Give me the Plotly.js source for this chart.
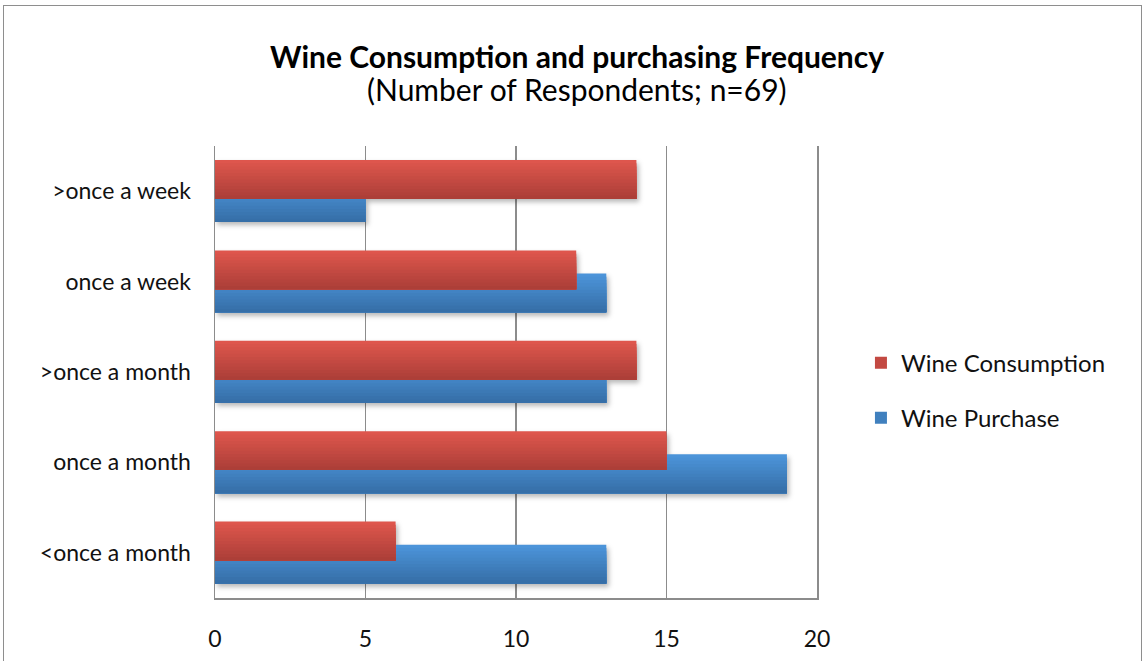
<!DOCTYPE html>
<html>
<head>
<meta charset="utf-8">
<script src="https://cdn.plot.ly/plotly-3.0.1.min.js"></script>
<style>
  html, body { margin: 0; padding: 0; background: #fff; }
  #wrap { position: relative; width: 1142px; height: 661px; overflow: hidden; }
  #chart { position: absolute; left: 0; top: 0; width: 1142px; height: 661px; }
  #frame { position: absolute; left: 3px; top: 5px; width: 1137px; height: 700px;
           border: 1px solid #8e8e8e; pointer-events: none; }
  /* soft drop shadow under the bars */
  #chart g.barlayer { filter: drop-shadow(2px 3px 2.5px rgba(0,0,0,0.28)); }
</style>
</head>
<body>
<div id="wrap">
  <div id="chart"></div>
  <div id="frame"></div>
</div>
<script>
// Frequency categories, top to bottom
const categories = ['>once a week', 'once a week', '>once a month', 'once a month', '<once a month'];
// Number of respondents per frequency
const consumption = [14, 12, 14, 15, 6];
const purchase = [5, 13, 13, 19, 13];
const xTicks = [0, 5, 10, 15, 20];

const FONT = 'Lato, Open Sans, sans-serif';

// Each bar is layered from a stack of strips, each reaching to the bar's
// lower edge, so the bar gets a light-to-dark vertical shading without seams.
const BAR_W = 0.43;     // bar thickness in category units
const STRIPS = 12;

function lerp(a, b, t) { return Math.round(a + (b - a) * t); }
function shade(top, bot, t) {
  return 'rgb(' + lerp(top[0], bot[0], t) + ',' + lerp(top[1], bot[1], t) + ',' + lerp(top[2], bot[2], t) + ')';
}

function shadedBars(name, values, offset, top, bot, rank) {
  const out = [];
  const h = BAR_W / STRIPS;
  for (let k = 0; k < STRIPS; k++) {
    const t = k / (STRIPS - 1);
    out.push({
      type: 'bar',
      orientation: 'h',
      name: name,
      x: values,
      y: categories,
      offset: offset + k * h,
      width: BAR_W - k * h,
      marker: { color: shade(top, bot, t), line: { width: 0 } },
      legendgroup: name,
      legendrank: rank,
      showlegend: k === Math.floor(STRIPS / 2),
      hoverinfo: 'x+name'
    });
  }
  return out;
}

const redTop = [222, 86, 77], redBot = [172, 63, 56];
const blueTop = [76, 148, 217], blueBot = [54, 111, 168];

// Purchase bars go first so the consumption bars overlap them
const traces = []
  .concat(shadedBars('Wine Purchase', purchase, -0.09, blueTop, blueBot, 2))
  .concat(shadedBars('Wine Consumption', consumption, -0.345, redTop, redBot, 1));

const layout = {
  width: 1142,
  height: 661,
  margin: { l: 215, r: 325, t: 146, b: 63 },
  paper_bgcolor: '#ffffff',
  plot_bgcolor: '#ffffff',
  barmode: 'overlay',
  showlegend: true,
  font: { family: FONT, size: 23, color: '#111' },
  xaxis: {
    range: [0, 20],
    tickvals: xTicks,
    ticktext: xTicks.map(String),
    showgrid: true,
    gridcolor: '#8c8c8c',
    gridwidth: 1.5,
    zeroline: false,
    showline: true,
    linecolor: '#8c8c8c',
    linewidth: 1.5,
    ticks: '',
    ticklabelstandoff: 20,
    tickfont: { family: FONT, size: 23, color: '#111' },
    fixedrange: true
  },
  yaxis: {
    type: 'category',
    categoryorder: 'array',
    categoryarray: categories,
    range: [4.5, -0.5],
    showgrid: false,
    zeroline: false,
    showline: true,
    mirror: true,
    linecolor: '#8c8c8c',
    linewidth: 1.5,
    ticks: '',
    ticklabelstandoff: 18,
    tickfont: { family: FONT, size: 23, color: '#111' },
    fixedrange: true
  },
  legend: {
    x: 1.073,
    y: 0.459,
    xanchor: 'left',
    yanchor: 'middle',
    traceorder: 'grouped',
    tracegroupgap: 21,
    itemwidth: 30,
    font: { family: FONT, size: 24, color: '#111' },
    bgcolor: 'rgba(0,0,0,0)'
  },
  annotations: [
    {
      text: '<b>Wine Consumption and purchasing Frequency</b>',
      xref: 'paper', yref: 'paper', x: 0.601, y: 1.199,
      xanchor: 'center', yanchor: 'middle', showarrow: false,
      font: { family: FONT, size: 30, color: '#000' }
    },
    {
      text: '(Number of Respondents; n=69)',
      xref: 'paper', yref: 'paper', x: 0.601, y: 1.126,
      xanchor: 'center', yanchor: 'middle', showarrow: false,
      font: { family: FONT, size: 30, color: '#000' }
    }
  ]
};

Plotly.newPlot('chart', traces, layout, { displayModeBar: false, staticPlot: true });
</script>
</body>
</html>
